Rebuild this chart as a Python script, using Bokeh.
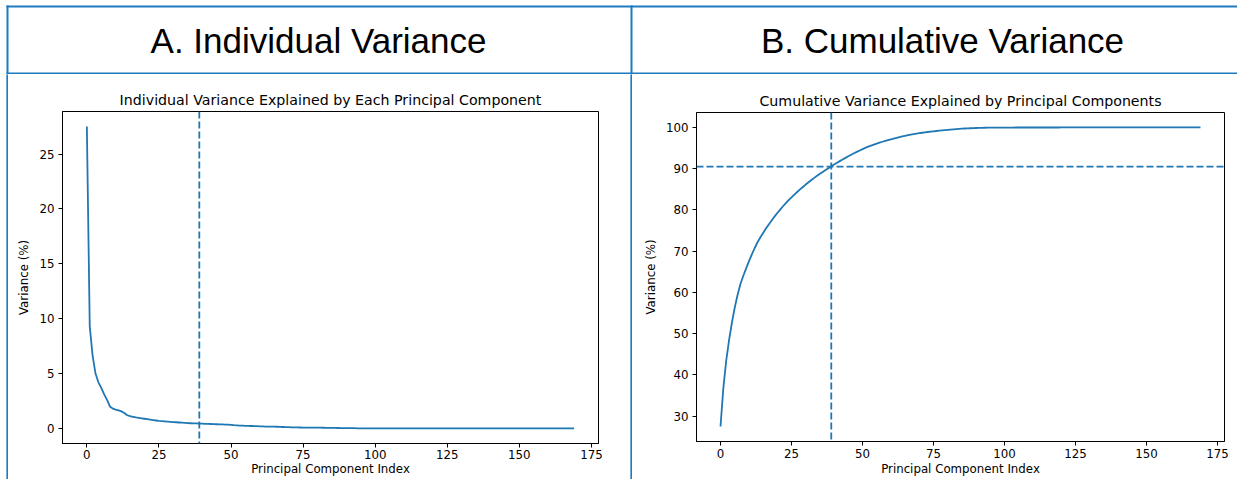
import numpy as np
from bokeh.plotting import figure
from bokeh.layouts import column, row
from bokeh.models import Range1d, FixedTicker, Span, ColumnDataSource
from bokeh.core.properties import value
from bokeh.embed import file_html
from bokeh.resources import INLINE

# ---------------- data ----------------
panel_titles = ["A. Individual Variance", "B. Cumulative Variance"]
plot_titles = ["Individual Variance Explained by Each Principal Component",
               "Cumulative Variance Explained by Principal Components"]
x_label = "Principal Component Index"
y_label = "Variance (%)"
x_ticks = [0, 25, 50, 75, 100, 125, 150, 175]
y_ticks_individual = [0, 5, 10, 15, 20, 25]
y_ticks_cumulative = [30, 40, 50, 60, 70, 80, 90, 100]

# explained variance (%) of each principal component
individual_variance = [
    27.5, 9.3, 6.6, 5.0, 4.2, 3.7, 3.1, 2.6, 2.0, 1.8,
    1.72, 1.65, 1.55, 1.4, 1.2, 1.12, 1.06, 1.0, 0.96, 0.92,
    0.88, 0.84, 0.8, 0.76, 0.72, 0.68, 0.66, 0.64, 0.62, 0.6,
    0.58, 0.56, 0.54, 0.52, 0.5, 0.48, 0.47, 0.46, 0.45, 0.44,
    0.43, 0.42, 0.41, 0.40, 0.39, 0.38, 0.37, 0.36, 0.35, 0.34,
    0.33, 0.3, 0.28, 0.26, 0.25, 0.24, 0.23, 0.22, 0.21, 0.2,
    0.19, 0.18, 0.17, 0.165, 0.16, 0.155, 0.15, 0.14, 0.13, 0.12,
    0.11, 0.1, 0.095, 0.09, 0.085, 0.08, 0.078, 0.075, 0.072, 0.07,
    0.068, 0.065, 0.06, 0.055, 0.05, 0.045, 0.04, 0.036, 0.032, 0.028,
    0.025, 0.022, 0.02, 0.018, 0.012, 0.01, 0.008, 0.007, 0.006, 0.005,
    0.004, 0.003, 0.002, 0.002, 0.002, 0.001, 0.001, 0.001, 0.001, 0.001,
    0.001, 0.0005, 0.0005, 0.0005, 0.0005, 0.0005, 0.0005, 0.0005, 0.0005, 0.0001,
    0.0001, 0.0001, 0.0001, 0.0001, 0.0001, 0.0001, 0.0001, 0.0001, 0.0001, 0.0001,
    0.0001, 0.0001, 0.0001, 0.0001, 0.0001, 0.0001, 0.0001, 0.0001, 0.0001, 0.0001,
    0.0001, 0.0001, 0.0001, 0.0001, 0.0001, 0.0001, 0.0001, 0.0001, 0.0001, 0.0001,
    0.0001, 0.0001, 0.0001, 0.0001, 0.0001, 0.0001, 0.0001, 0.0001, 0.0001, 0.0001,
    0.0001, 0.0001, 0.0001, 0.0001, 0.0001, 0.0001, 0.0001, 0.0001, 0.0001, 0.0001,
]
threshold_component = 39
threshold_variance = 90.5

component_index = list(range(len(individual_variance)))
cumulative_variance = list(np.cumsum(individual_variance))

source = ColumnDataSource(data=dict(index=component_index,
                                    individual=individual_variance,
                                    cumulative=cumulative_variance))

# ---------------- styling ----------------
LINE = "#1f77b4"
BORDER = "#1f7abf"
W = 1237
HEAD_H = 74
LOW_H = 479 - HEAD_H


def no_align(f):
    if "frame_align" in f.properties():
        f.frame_align = False
    return f


def strip(w, h, color):
    f = figure(width=w, height=h, x_range=Range1d(0, 1), y_range=Range1d(0, 1),
               x_axis_type=None, y_axis_type=None, toolbar_location=None,
               output_backend="svg", min_border=0, outline_line_color=None,
               background_fill_color=color, border_fill_color=color)
    f.quad(left=[0], right=[1], bottom=[0], top=[1], fill_color=color, line_color=None)
    return no_align(f)


head = figure(width=W, height=HEAD_H, x_range=Range1d(0, W), y_range=Range1d(0, HEAD_H),
              x_axis_type=None, y_axis_type=None, toolbar_location=None,
              output_backend="svg", min_border=0, outline_line_color=None)
# borders (y measured from the top, converted to upward axis)
tops = [5, 72, 5, 5]
bots = [7, 74, 74, 74]
head.quad(left=[6, 6, 6, 630], right=[W, W, 8, 632],
          top=[HEAD_H - t for t in tops], bottom=[HEAD_H - b for b in bots],
          fill_color=BORDER, line_color=None)
head.text(x=[318, 942], y=[HEAD_H - 40, HEAD_H - 40], text=panel_titles,
          text_font=value("Liberation Sans"), text_font_size=value("35px"),
          text_align="center", text_baseline="middle", text_color="black")
no_align(head)


def make_plot(width, fl, fw, ft, fh, x_rng, y_rng, title, yticks, s1, s2):
    p = figure(width=width, height=LOW_H, x_range=Range1d(*x_rng), y_range=Range1d(*y_rng),
               toolbar_location=None, output_backend="svg", title=title,
               min_border_left=fl, min_border_right=width - fl - fw,
               min_border_top=ft, min_border_bottom=LOW_H - ft - fh)
    no_align(p)
    p.title.text_font = "DejaVu Sans"
    p.title.text_font_size = "14.2px"
    p.title.text_font_style = "normal"
    p.title.text_color = "black"
    p.title.align = "center"
    p.title.standoff = 7
    p.xgrid.visible = False
    p.ygrid.visible = False
    p.outline_line_color = "black"
    p.outline_line_width = 1
    p.outline_line_alpha = 1
    for ax in p.axis:
        ax.axis_line_color = "black"
        ax.major_tick_line_color = "black"
        ax.major_tick_in = 0
        ax.major_tick_out = 4
        ax.minor_tick_line_color = None
        ax.major_label_text_font = "DejaVu Sans"
        ax.major_label_text_font_size = "11.8px"
        ax.major_label_text_color = "black"
        ax.axis_label_text_font = "DejaVu Sans"
        ax.axis_label_text_font_size = "11.8px"
        ax.axis_label_text_font_style = "normal"
        ax.axis_label_text_color = "black"
    p.xaxis.major_label_standoff = s1
    p.xaxis.axis_label_standoff = s2
    p.yaxis.major_label_standoff = 4
    p.yaxis.axis_label_standoff = 5
    p.xaxis.ticker = FixedTicker(ticks=x_ticks)
    p.yaxis.ticker = FixedTicker(ticks=yticks)
    p.xaxis.axis_label = x_label
    p.yaxis.axis_label = y_label
    return p


n = len(individual_variance)
xr = (-0.05 * (n - 1), (n - 1) * 1.05)

p1 = make_plot(622, 54, 536, 37, 332, xr,
               (-0.05 * max(individual_variance), 1.05 * max(individual_variance)),
               plot_titles[0], y_ticks_individual, 2, 0)
p1.line(x="index", y="individual", source=source, line_color=LINE, line_width=1.8)
p1.add_layout(Span(location=threshold_component, dimension="height", line_color=LINE,
                   line_width=1.8, line_dash="7 3"))

cmin, cmax = min(cumulative_variance), max(cumulative_variance)
pad = 0.05 * (cmax - cmin)
p2 = make_plot(605, 64, 528, 38, 329, xr, (cmin - pad, cmax + pad),
               plot_titles[1], y_ticks_cumulative, 3, 1)
p2.line(x="index", y="cumulative", source=source, line_color=LINE, line_width=1.8)
p2.add_layout(Span(location=threshold_component, dimension="height", line_color=LINE,
                   line_width=1.8, line_dash="7 3"))
p2.add_layout(Span(location=threshold_variance, dimension="width", line_color=LINE,
                   line_width=1.8, line_dash="7 3"))

layout = column(head, row(strip(6, LOW_H, "white"), strip(2, LOW_H, BORDER), p1,
                          strip(2, LOW_H, BORDER), p2))

open("out.html", "w").write(file_html(layout, INLINE))
